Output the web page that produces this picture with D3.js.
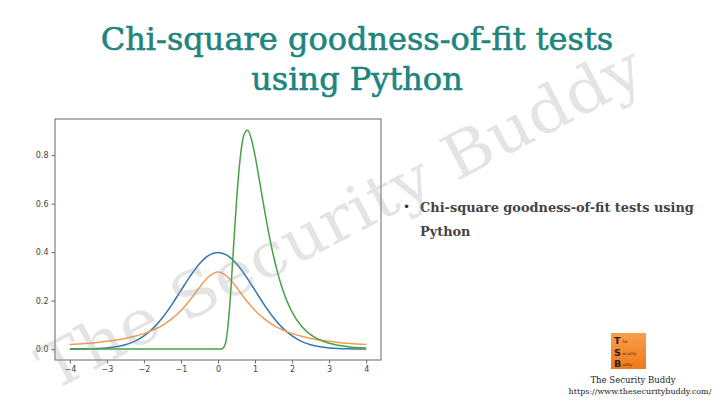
<!DOCTYPE html>
<html>
<head>
<meta charset="utf-8">
<script src="https://cdn.jsdelivr.net/npm/d3@7"></script>
<style>
  html, body { margin: 0; padding: 0; background: #fff; }
  svg { display: block; }
</style>
</head>
<body>
<svg id="chart" width="720" height="404"></svg>
<script>
// ---- data ----
const titleLines = ["Chi-square goodness-of-fit tests", "using Python"];
const bulletLines = ["Chi-square goodness-of-fit tests using", "Python"];
const xTicks = [-4, -3, -2, -1, 0, 1, 2, 3, 4];
const yTicks = [0.0, 0.2, 0.4, 0.6, 0.8];

// blue and orange curves share this x grid
const xGrid = [-4, -3.75, -3.5, -3.25, -3, -2.75, -2.5, -2.25, -2, -1.75, -1.5, -1.25, -1, -0.75, -0.5, -0.25,
  0, 0.25, 0.5, 0.75, 1, 1.25, 1.5, 1.75, 2, 2.25, 2.5, 2.75, 3, 3.25, 3.5, 3.75, 4];
const blueValues = [0.0001, 0.0004, 0.0009, 0.0020, 0.0044, 0.0091, 0.0175, 0.0317, 0.0540, 0.0863, 0.1295, 0.1826, 0.2420, 0.3011, 0.3521, 0.3867,
  0.3989, 0.3867, 0.3521, 0.3011, 0.2420, 0.1826, 0.1295, 0.0863, 0.0540, 0.0317, 0.0175, 0.0091, 0.0044, 0.0020, 0.0009, 0.0004, 0.0001];
const orangeValues = [0.0187, 0.0211, 0.0240, 0.0275, 0.0318, 0.0372, 0.0439, 0.0525, 0.0637, 0.0784, 0.0979, 0.1242, 0.1592, 0.2037, 0.2546, 0.2996,
  0.3183, 0.2996, 0.2546, 0.2037, 0.1592, 0.1242, 0.0979, 0.0784, 0.0637, 0.0525, 0.0439, 0.0372, 0.0318, 0.0275, 0.0240, 0.0211, 0.0187];

// green curve has its own x grid (finer around the peak)
const greenX = [-4, -3, -2, -1, 0, 0.1, 0.2, 0.3, 0.4, 0.5, 0.6, 0.7, 0.8, 0.9, 1.0, 1.1, 1.2, 1.3, 1.4, 1.5, 1.6, 1.7, 1.8, 1.9, 2.0,
  2.25, 2.5, 2.75, 3, 3.5, 4];
const greenValues = [0, 0, 0, 0, 0, 0.0002, 0.0225, 0.1465, 0.3721, 0.6104, 0.7893, 0.8837, 0.9028, 0.8670, 0.7979, 0.7123, 0.6221, 0.5348, 0.4545, 0.3829, 0.3206, 0.2672, 0.2221, 0.1842, 0.1526,
  0.0952, 0.0595, 0.0375, 0.0238, 0.0099, 0.0043];

const seriesColors = ["#3477b0", "#f39c55", "#45a345"];

// ---- drawing ----
const svg = d3.select("#chart");

// title
const title = svg.append("text")
  .attr("x", 357)
  .attr("text-anchor", "middle")
  .attr("font-family", "DejaVu Serif")
  .attr("font-size", 32)
  .attr("fill", "#1e857f")
  .attr("stroke", "#1e857f").attr("stroke-width", 0.6);
title.selectAll("tspan").data(titleLines).join("tspan")
  .attr("x", 357)
  .attr("y", (d, i) => 50 + i * 40)
  .text(d => d);

// plot area
const frame = {left: 55, right: 381, top: 119, bottom: 360};
const x = d3.scaleLinear().domain([-4.4, 4.4]).range([frame.left, frame.right]);
const y = d3.scaleLinear().domain([-0.0452, 0.9494]).range([frame.bottom, frame.top]);

const plot = svg.append("g");

const line = d3.line().curve(d3.curveMonotoneX);

const series = [
  {xs: xGrid, ys: blueValues, color: seriesColors[0]},
  {xs: xGrid, ys: orangeValues, color: seriesColors[1]},
  {xs: greenX, ys: greenValues, color: seriesColors[2]}
];
plot.selectAll("path.series").data(series).join("path")
  .attr("class", "series")
  .attr("fill", "none")
  .attr("stroke", d => d.color)
  .attr("stroke-width", 1.5)
  .attr("d", d => line(d.xs.map((v, i) => [x(v), y(d.ys[i])])));

// frame
plot.append("rect")
  .attr("x", frame.left).attr("y", frame.top)
  .attr("width", frame.right - frame.left).attr("height", frame.bottom - frame.top)
  .attr("fill", "none").attr("stroke", "#666").attr("stroke-width", 1);

// axes
const xAxis = d3.axisBottom(x).tickValues(xTicks).tickSize(3.5).tickPadding(3)
  .tickFormat(d => d < 0 ? "\u2212" + Math.abs(d) : String(d));
const yAxis = d3.axisLeft(y).tickValues(yTicks).tickSize(3.5).tickPadding(3)
  .tickFormat(d3.format(".1f"));

const gx = plot.append("g").attr("transform", `translate(0,${frame.bottom})`).call(xAxis);
const gy = plot.append("g").attr("transform", `translate(${frame.left},0)`).call(yAxis);
[gx, gy].forEach(g => {
  g.select(".domain").remove();
  g.selectAll(".tick line").attr("stroke", "#666");
  g.selectAll(".tick text").attr("fill", "#444").attr("font-family", "DejaVu Sans").attr("font-size", 8);
});

// bullet text
svg.append("text")
  .attr("x", 403).attr("y", 211)
  .attr("font-family", "DejaVu Sans").attr("font-size", 12).attr("fill", "#333")
  .text("\u2022");
const bullet = svg.append("text")
  .attr("font-family", "DejaVu Serif").attr("font-size", 12.9).attr("font-weight", "bold")
  .attr("fill", "#444");
bullet.selectAll("tspan").data(bulletLines).join("tspan")
  .attr("x", 420)
  .attr("y", (d, i) => 212 + i * 24)
  .text(d => d);

// logo
const logo = svg.append("g").attr("transform", "translate(611,333)");
const grad = svg.append("defs").append("linearGradient").attr("id", "lg")
  .attr("x1", 0).attr("y1", 0).attr("x2", 0).attr("y2", 1);
grad.append("stop").attr("offset", 0).attr("stop-color", "#f7a04a");
grad.append("stop").attr("offset", 1).attr("stop-color", "#f0781c");
logo.append("rect").attr("width", 35).attr("height", 36).attr("fill", "url(#lg)");
const logoLetters = ["T", "S", "B"];
const logoRest = ["he", "ecurity", "uddy"];
logo.selectAll("text.big").data(logoLetters).join("text")
  .attr("class", "big")
  .attr("x", 3).attr("y", (d, i) => 11 + i * 11.5)
  .attr("font-family", "DejaVu Sans").attr("font-weight", "bold").attr("font-size", 9.5)
  .attr("fill", "#222").text(d => d);
logo.selectAll("text.small").data(logoRest).join("text")
  .attr("class", "small")
  .attr("x", 11.5).attr("y", (d, i) => 10 + i * 11.5)
  .attr("font-family", "DejaVu Sans").attr("font-size", 4)
  .attr("fill", "#5a2a00").text(d => d);

svg.append("text")
  .attr("x", 633).attr("y", 383).attr("text-anchor", "middle")
  .attr("font-family", "DejaVu Serif").attr("font-size", 8.5).attr("fill", "#222")
  .text("The Security Buddy");
svg.append("text")
  .attr("x", 640).attr("y", 394).attr("text-anchor", "middle")
  .attr("font-family", "DejaVu Serif").attr("font-size", 8).attr("fill", "#222")
  .text("https://www.thesecuritybuddy.com/");

// watermark
svg.append("text")
  .attr("transform", "translate(52,392) rotate(-27.5)")
  .attr("font-family", "DejaVu Serif").attr("font-size", 62)
  .attr("fill", "#9a9a9a").attr("fill-opacity", 0.27)
  .attr("textLength", 672).attr("lengthAdjust", "spacingAndGlyphs")
  .text("The Security Buddy");
</script>
</body>
</html>
